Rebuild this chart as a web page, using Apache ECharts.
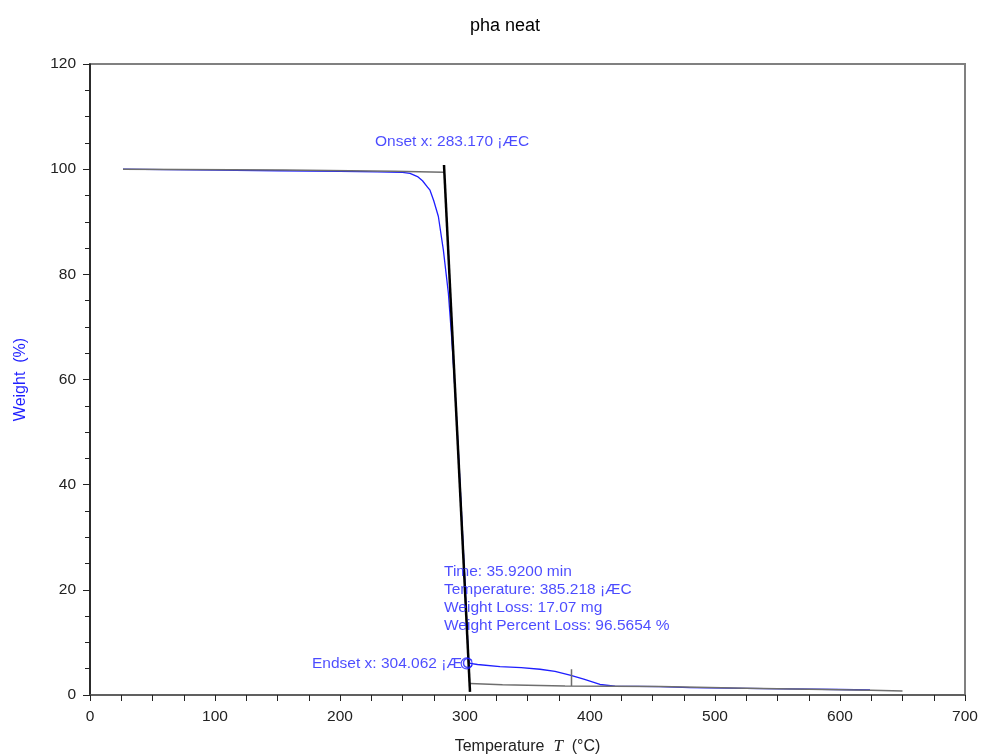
<!DOCTYPE html>
<html>
<head>
<meta charset="utf-8">
<script src="https://cdn.jsdelivr.net/npm/echarts@6/dist/echarts.min.js"></script>
<style>
html,body{margin:0;padding:0;background:#fff;}
#chart{width:981px;height:756px;}
</style>
</head>
<body>
<div id="chart"></div>
<script>
// ---- data ----
var blueT = [26.4, 60, 100, 150, 200, 230, 250, 256, 262, 266, 270, 272, 275, 278.7, 282.7, 286.7, 289.3, 292, 295, 298.7, 300.8, 302, 302.8, 304, 310, 328, 345, 360, 372, 384, 395, 408, 420, 456, 480, 540, 600, 624];
var blueW = [100, 99.9, 99.8, 99.7, 99.6, 99.5, 99.4, 99.2, 98.6, 97.8, 96.6, 96.0, 94.0, 91.0, 84.6, 76.4, 68.1, 58.0, 45.0, 27.6, 17.5, 11.0, 6.8, 6.0, 5.8, 5.4, 5.2, 4.9, 4.5, 3.8, 3.0, 2.0, 1.7, 1.6, 1.4, 1.2, 1.05, 0.95];
var upperBaseT = [26.4, 155, 243, 283.2];
var upperBaseW = [100, 99.85, 99.6, 99.4];
var tangentT = [283.2, 304.0];
var tangentW = [100.8, 0.6];
var lowerBaseT = [304, 330, 380, 456, 525, 575, 625, 650];
var lowerBaseW = [2.2, 1.95, 1.7, 1.6, 1.3, 1.1, 0.9, 0.76];
var markerT = [385.2, 385.2];
var markerW = [1.7, 4.9];
var endsetPointT = [301.3];
var endsetPointW = [6.0];
var annotTexts = ['Onset x: 283.170 ¡ÆC', 'Endset x: 304.062 ¡ÆC', 'Time: 35.9200 min\nTemperature: 385.218 ¡ÆC\nWeight Loss: 17.07 mg\nWeight Percent Loss: 96.5654 %'];
var annotT = [228, 177.6, 283.2];
var annotW = [105.2, 6.0, 18.3];
var xTicksMax = 700, yTicksMax = 120;

function pairs(a, b) { return a.map(function (v, i) { return [v, b[i]]; }); }

var FONT = '"Liberation Sans", Arial, sans-serif';
var BLUE = '#1e1eff';

var chart = echarts.init(document.getElementById('chart'), null, {renderer: 'canvas'});
chart.setOption({
  animation: false,
  backgroundColor: '#ffffff',
  title: {
    text: 'pha neat', left: 465, top: 12,
    textStyle: {fontFamily: FONT, fontSize: 18, fontWeight: 'normal', color: '#000'}
  },
  grid: {left: 90, right: 16, top: 64, bottom: 61, show: true, borderColor: '#808080', borderWidth: 2,
         backgroundColor: 'transparent', outerBoundsMode: 'none', containLabel: false},
  xAxis: {
    type: 'value', min: 0, max: xTicksMax, interval: 100,
    name: 'Temperature  {i|T}  (°C)', nameLocation: 'middle', nameGap: 43,
    nameTextStyle: {fontFamily: FONT, fontSize: 16, color: '#222',
      rich: {i: {fontFamily: '"Liberation Serif", serif', fontStyle: 'italic', fontSize: 17, color: '#222'}}},
    axisLine: {show: true, lineStyle: {color: '#555', width: 1.5}},
    axisTick: {show: true, inside: false, length: 6, lineStyle: {color: '#222'}},
    minorTick: {show: true, splitNumber: 4, length: 6, lineStyle: {color: '#222'}},
    axisLabel: {fontFamily: FONT, fontSize: 15.5, color: '#222', margin: 14},
    splitLine: {show: false}
  },
  yAxis: {
    type: 'value', min: 0, max: yTicksMax, interval: 20,
    name: 'Weight  (%)', nameLocation: 'middle', nameGap: 61,
    nameTextStyle: {fontFamily: FONT, fontSize: 16, color: BLUE},
    axisLine: {show: true, lineStyle: {color: '#111', width: 1.5}},
    axisTick: {show: true, inside: false, length: 7, lineStyle: {color: '#222'}},
    minorTick: {show: true, splitNumber: 4, length: 5, lineStyle: {color: '#222'}},
    axisLabel: {fontFamily: FONT, fontSize: 15.5, color: '#222', margin: 14},
    splitLine: {show: false}
  },
  series: [
    {type: 'line', data: pairs(blueT, blueW), showSymbol: false, symbol: 'none',
     lineStyle: {color: BLUE, width: 1.3}, z: 2},
    {type: 'line', data: pairs(upperBaseT, upperBaseW), symbol: 'none',
     lineStyle: {color: '#6e6e6e', width: 1.5}, z: 3},
    {type: 'line', data: pairs(lowerBaseT, lowerBaseW), symbol: 'none',
     lineStyle: {color: '#6e6e6e', width: 1.5}, z: 3},
    {type: 'line', data: pairs(markerT, markerW), symbol: 'none',
     lineStyle: {color: '#6e6e6e', width: 1.5}, z: 3},
    {type: 'line', data: pairs(tangentT, tangentW), symbol: 'none',
     lineStyle: {color: '#000', width: 2.5}, z: 4},
    {type: 'scatter', data: pairs(endsetPointT, endsetPointW), symbol: 'circle', symbolSize: 11,
     itemStyle: {color: 'transparent', borderColor: BLUE, borderWidth: 1.2}, z: 5},
    {type: 'scatter', symbolSize: 0, z: 6,
     data: annotT.map(function (t, i) {
       return {value: [t, annotW[i]], label: {show: true, formatter: annotTexts[i]}};
     }),
     label: {position: 'right', distance: 0, fontFamily: FONT, fontSize: 15.5, color: BLUE, lineHeight: 18, align: 'left', verticalAlign: 'middle'}
    }
  ]
});
</script>
</body>
</html>
